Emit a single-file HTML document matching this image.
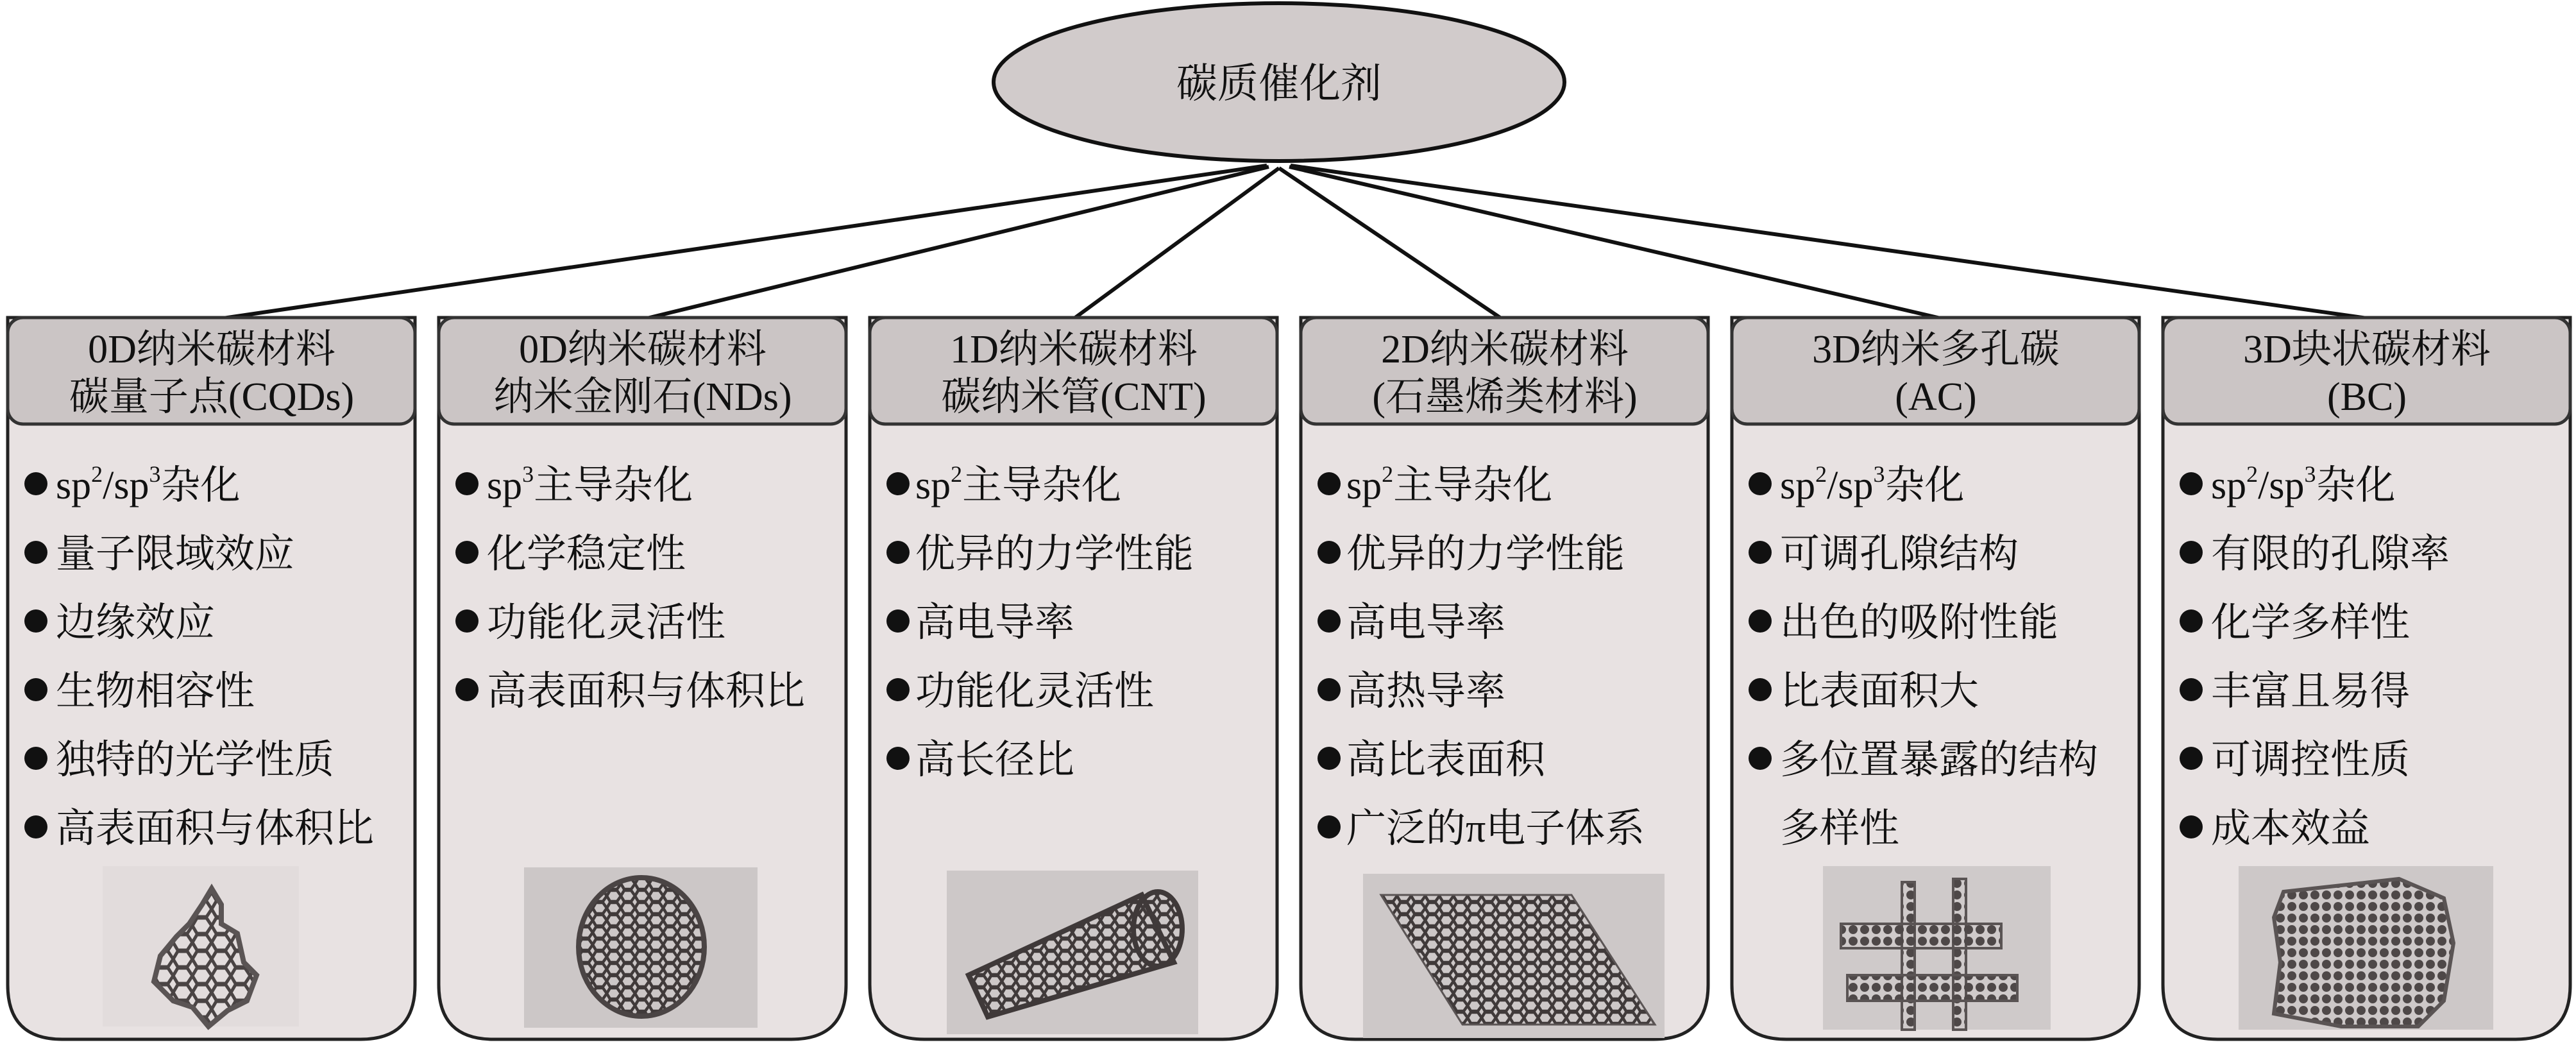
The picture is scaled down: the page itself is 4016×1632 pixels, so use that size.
<!DOCTYPE html>
<html><head><meta charset="utf-8">
<style>
html,body{margin:0;padding:0;background:#fff;}
svg{display:block;}
text{font-family:"Liberation Serif","Noto Serif CJK SC","Noto Sans CJK SC",serif;fill:#111;}
</style></head>
<body>
<svg width="4016" height="1632" viewBox="0 0 4016 1632" xmlns="http://www.w3.org/2000/svg">
<defs>
  <pattern id="hex" width="30" height="26" patternUnits="userSpaceOnUse">
    <rect width="30" height="26" fill="none"/>
    <path d="M0 13 L7 1 L22 1 L30 13 L22 25 L7 25 Z" fill="none" stroke="#4a4444" stroke-width="5"/>
  </pattern>
  <pattern id="hexs" width="22" height="19" patternUnits="userSpaceOnUse">
    <path d="M0 9.5 L5 1 L16 1 L22 9.5 L16 18 L5 18 Z" fill="none" stroke="#403a3a" stroke-width="4.5"/>
  </pattern>
  <pattern id="dots" width="18" height="18" patternUnits="userSpaceOnUse">
    <circle cx="9" cy="9" r="7" fill="#4e4848"/>
  </pattern>
</defs>

<!-- connectors -->
<g stroke="#111" stroke-width="6" fill="none">
  <line x1="1975" y1="258" x2="348" y2="496"/>
  <line x1="1978" y1="260" x2="1009" y2="496"/>
  <line x1="1994" y1="262" x2="1675" y2="496"/>
  <line x1="1994" y1="262" x2="2340" y2="496"/>
  <line x1="2010" y1="260" x2="3025" y2="496"/>
  <line x1="2012" y1="258" x2="3690" y2="496"/>
</g>

<!-- top ellipse -->
<ellipse cx="1994" cy="128" rx="445" ry="123" fill="#d1cbcb" stroke="#111" stroke-width="6"/>
<text x="1994" y="152" font-size="64" text-anchor="middle">碳质催化剂</text>

<!-- boxes -->
<g id="boxes">
<!-- generic: body then header -->
<g transform="translate(9,0)">
  <path d="M3 495 L3 1535 Q3 1620 88 1620 L553 1620 Q638 1620 638 1535 L638 495 Z" fill="#e8e2e2" stroke="#222" stroke-width="5"/>
  <rect x="3" y="495" width="635" height="166" rx="24" fill="#cbc5c5" stroke="#333" stroke-width="5"/>
</g>
<g transform="translate(681,0)">
  <path d="M3 495 L3 1535 Q3 1620 88 1620 L553 1620 Q638 1620 638 1535 L638 495 Z" fill="#e8e2e2" stroke="#222" stroke-width="5"/>
  <rect x="3" y="495" width="635" height="166" rx="24" fill="#cbc5c5" stroke="#333" stroke-width="5"/>
</g>
<g transform="translate(1353,0)">
  <path d="M3 495 L3 1535 Q3 1620 88 1620 L553 1620 Q638 1620 638 1535 L638 495 Z" fill="#e8e2e2" stroke="#222" stroke-width="5"/>
  <rect x="3" y="495" width="635" height="166" rx="24" fill="#cbc5c5" stroke="#333" stroke-width="5"/>
</g>
<g transform="translate(2025,0)">
  <path d="M3 495 L3 1535 Q3 1620 88 1620 L553 1620 Q638 1620 638 1535 L638 495 Z" fill="#e8e2e2" stroke="#222" stroke-width="5"/>
  <rect x="3" y="495" width="635" height="166" rx="24" fill="#cbc5c5" stroke="#333" stroke-width="5"/>
</g>
<g transform="translate(2697,0)">
  <path d="M3 495 L3 1535 Q3 1620 88 1620 L553 1620 Q638 1620 638 1535 L638 495 Z" fill="#e8e2e2" stroke="#222" stroke-width="5"/>
  <rect x="3" y="495" width="635" height="166" rx="24" fill="#cbc5c5" stroke="#333" stroke-width="5"/>
</g>
<g transform="translate(3369,0)">
  <path d="M3 495 L3 1535 Q3 1620 88 1620 L553 1620 Q638 1620 638 1535 L638 495 Z" fill="#e8e2e2" stroke="#222" stroke-width="5"/>
  <rect x="3" y="495" width="635" height="166" rx="24" fill="#cbc5c5" stroke="#333" stroke-width="5"/>
</g>
</g>

<!-- header text -->
<g font-size="62" text-anchor="middle">
  <text x="330" y="565">0D纳米碳材料</text><text x="330" y="639">碳量子点(CQDs)</text>
  <text x="1002" y="565">0D纳米碳材料</text><text x="1002" y="639">纳米金刚石(NDs)</text>
  <text x="1674" y="565">1D纳米碳材料</text><text x="1674" y="639">碳纳米管(CNT)</text>
  <text x="2346" y="565">2D纳米碳材料</text><text x="2346" y="639">(石墨烯类材料)</text>
  <text x="3018" y="565">3D纳米多孔碳</text><text x="3018" y="639">(AC)</text>
  <text x="3690" y="565">3D块状碳材料</text><text x="3690" y="639">(BC)</text>
</g>

<!-- bullets -->
<g fill="#111">
  <circle cx="56" cy="754" r="18"/><circle cx="56" cy="861" r="18"/><circle cx="56" cy="968" r="18"/><circle cx="56" cy="1075" r="18"/><circle cx="56" cy="1182" r="18"/><circle cx="56" cy="1289" r="18"/>
  <circle cx="728" cy="754" r="18"/><circle cx="728" cy="861" r="18"/><circle cx="728" cy="968" r="18"/><circle cx="728" cy="1075" r="18"/>
  <circle cx="1400" cy="754" r="18"/><circle cx="1400" cy="861" r="18"/><circle cx="1400" cy="968" r="18"/><circle cx="1400" cy="1075" r="18"/><circle cx="1400" cy="1182" r="18"/>
  <circle cx="2072" cy="754" r="18"/><circle cx="2072" cy="861" r="18"/><circle cx="2072" cy="968" r="18"/><circle cx="2072" cy="1075" r="18"/><circle cx="2072" cy="1182" r="18"/><circle cx="2072" cy="1289" r="18"/>
  <circle cx="2744" cy="754" r="18"/><circle cx="2744" cy="861" r="18"/><circle cx="2744" cy="968" r="18"/><circle cx="2744" cy="1075" r="18"/><circle cx="2744" cy="1182" r="18"/>
  <circle cx="3416" cy="754" r="18"/><circle cx="3416" cy="861" r="18"/><circle cx="3416" cy="968" r="18"/><circle cx="3416" cy="1075" r="18"/><circle cx="3416" cy="1182" r="18"/><circle cx="3416" cy="1289" r="18"/>
</g>

<g font-size="62">
  <!-- col1 -->
  <text x="87" y="777">sp<tspan font-size="36" dy="-26">2</tspan><tspan dy="26">/sp</tspan><tspan font-size="36" dy="-26">3</tspan><tspan dy="26">杂化</tspan></text>
  <text x="87" y="884">量子限域效应</text>
  <text x="87" y="991">边缘效应</text>
  <text x="87" y="1098">生物相容性</text>
  <text x="87" y="1205">独特的光学性质</text>
  <text x="87" y="1312">高表面积与体积比</text>
  <!-- col2 -->
  <text x="759" y="777">sp<tspan font-size="36" dy="-26">3</tspan><tspan dy="26">主导杂化</tspan></text>
  <text x="759" y="884">化学稳定性</text>
  <text x="759" y="991">功能化灵活性</text>
  <text x="759" y="1098">高表面积与体积比</text>
  <!-- col3 -->
  <text x="1427" y="777">sp<tspan font-size="36" dy="-26">2</tspan><tspan dy="26">主导杂化</tspan></text>
  <text x="1427" y="884">优异的力学性能</text>
  <text x="1427" y="991">高电导率</text>
  <text x="1427" y="1098">功能化灵活性</text>
  <text x="1427" y="1205">高长径比</text>
  <!-- col4 -->
  <text x="2099" y="777">sp<tspan font-size="36" dy="-26">2</tspan><tspan dy="26">主导杂化</tspan></text>
  <text x="2099" y="884">优异的力学性能</text>
  <text x="2099" y="991">高电导率</text>
  <text x="2099" y="1098">高热导率</text>
  <text x="2099" y="1205">高比表面积</text>
  <text x="2099" y="1312">广泛的π电子体系</text>
  <!-- col5 -->
  <text x="2775" y="777">sp<tspan font-size="36" dy="-26">2</tspan><tspan dy="26">/sp</tspan><tspan font-size="36" dy="-26">3</tspan><tspan dy="26">杂化</tspan></text>
  <text x="2775" y="884">可调孔隙结构</text>
  <text x="2775" y="991">出色的吸附性能</text>
  <text x="2775" y="1098">比表面积大</text>
  <text x="2775" y="1205">多位置暴露的结构</text>
  <text x="2775" y="1312">多样性</text>
  <!-- col6 -->
  <text x="3447" y="777">sp<tspan font-size="36" dy="-26">2</tspan><tspan dy="26">/sp</tspan><tspan font-size="36" dy="-26">3</tspan><tspan dy="26">杂化</tspan></text>
  <text x="3447" y="884">有限的孔隙率</text>
  <text x="3447" y="991">化学多样性</text>
  <text x="3447" y="1098">丰富且易得</text>
  <text x="3447" y="1205">可调控性质</text>
  <text x="3447" y="1312">成本效益</text>
</g>

<!-- images -->
<!-- 1: quantum dot -->
<rect x="160" y="1350" width="306" height="250" fill="#e2dcdc"/>
<path d="M330 1385 L345 1410 L345 1440 L370 1455 L380 1500 L400 1520 L385 1560 L355 1575 L325 1600 L300 1570 L270 1560 L240 1530 L250 1490 L275 1460 L295 1440 L315 1410 Z" fill="url(#hex)" stroke="#5a5454" stroke-width="8"/>
<!-- 2: fullerene -->
<rect x="817" y="1352" width="364" height="250" fill="#ccc7c7"/>
<ellipse cx="1000" cy="1476" rx="98" ry="108" fill="url(#hexs)" stroke="#4a4444" stroke-width="8"/>
<!-- 3: nanotube -->
<rect x="1476" y="1357" width="392" height="255" fill="#cdc8c8"/>
<path d="M1510 1520 L1780 1395 L1830 1500 L1540 1585 Z" fill="url(#hexs)" stroke="#3f3939" stroke-width="8"/>
<ellipse cx="1805" cy="1448" rx="38" ry="58" fill="url(#hexs)" stroke="#3f3939" stroke-width="8"/>
<!-- 4: graphene -->
<rect x="2125" y="1362" width="470" height="256" fill="#cdc8c8"/>
<path d="M2153 1395 L2450 1395 L2580 1597 L2280 1597 Z" fill="url(#hexs)" stroke="#5a5454" stroke-width="3"/>
<!-- 5: porous carbon -->
<rect x="2842" y="1350" width="355" height="255" fill="#cfcaca"/>
<g fill="url(#dots)" stroke="#5a5454" stroke-width="4">
  <rect x="2965" y="1375" width="20" height="230"/>
  <rect x="3045" y="1370" width="20" height="235"/>
  <rect x="2870" y="1440" width="250" height="38"/>
  <rect x="2880" y="1520" width="265" height="40"/>
</g>
<!-- 6: bulk carbon -->
<rect x="3490" y="1350" width="397" height="255" fill="#cdc8c8"/>
<path d="M3560 1390 L3740 1370 L3810 1400 L3825 1470 L3810 1560 L3770 1600 L3650 1600 L3545 1580 L3555 1500 L3545 1430 Z" fill="url(#dots)" stroke="#5a5454" stroke-width="6"/>
</svg>
</body></html>
